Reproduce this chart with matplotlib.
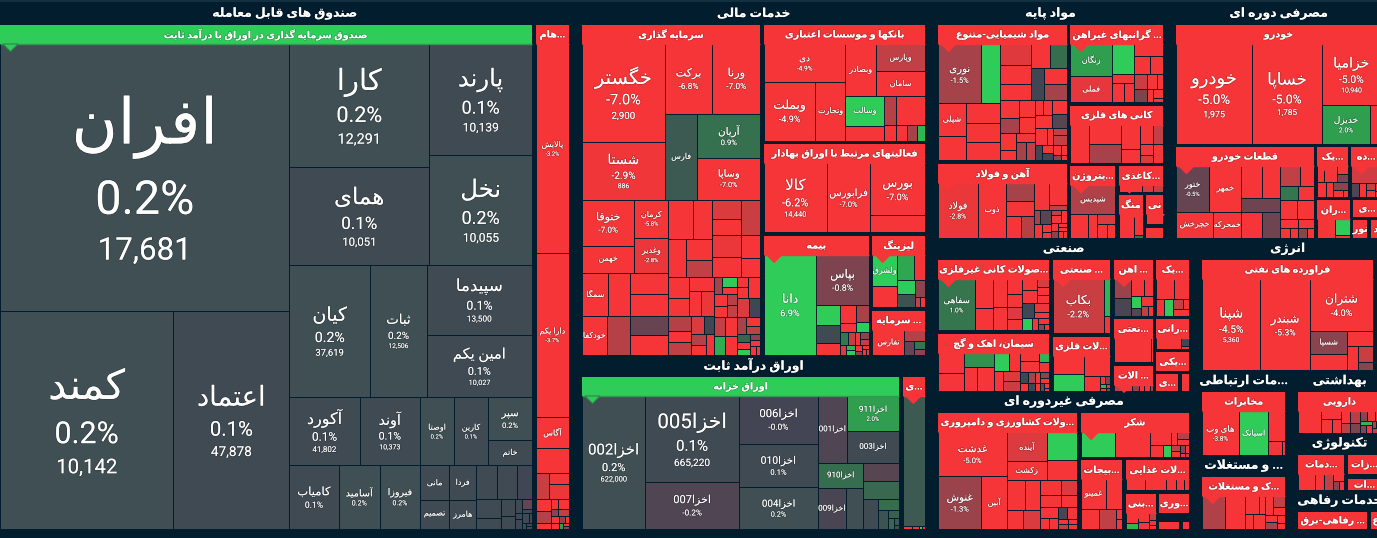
import re
import matplotlib
matplotlib.use("Agg")
import matplotlib.pyplot as plt
import matplotlib.patheffects as pe
from matplotlib.colors import LinearSegmentedColormap, Normalize
from matplotlib.patches import Polygon, Rectangle

# ---- data: names, sizes, % change, last price ----
R = -7.0  # limit-down stocks, most of the market

funds_names = ['افران', 'کمند', 'اعتماد', 'کارا', 'همای', 'پارند', 'نخل', 'کیان', 'ثبات', 'سپیدما', 'امین یکم', 'آکورد',
               'آوند', 'کامیاب', 'آسامید', 'فیروزا', 'اوصتا', 'کارین', 'سپر', 'خاتم', 'مانی', 'فردا', 'تصمیم', 'هامرز']
funds_prices = [17681, 10142, 47878, 12291, 10051, 10139, 10055, 37619, 12506, 13500, 10027, 41802, 10373]
funds_values = [77163, 37714, 25288, 17220, 13580, 11424, 11216, 10707, 7514, 7455, 6510, 4760, 4080, 3136, 2624, 2560,
                2312, 2312, 1892, 1100, 1015, 945, 841, 783, 693, 665, 490, 480, 264, 246, 182, 110, 100, 45, 40, 77, 60, 30, 25, 20, 15]
funds_changes = [.2, .2, .1, .2, .1, .1, .2, .2, .2, .1, .1, .1, .1, .1, .2, .2, .2, .1, .2, .1, .1, .1, .1, .1, .1, .1, 0, .1, .1, .1, .1, .1, -.5, .1, .1, 0, .1, .1, .1, .1, .1]

stockfunds_names = ['پالایش', 'دارا یکم', 'آگاس']
stockfunds_values = [7038, 5508, 1054, 816, 366, 235, 290, 186, 199, 90, 60, 45, 117, 78, 60, 45, 35, 30, 25, 20, 15]
stockfunds_changes = [-3.2, -3.7, R, R, -2.2, R, -2.8, R, -1.8, R, R, -1, R, -2, R, R, -1, R, 2, R, -1]

invest_names = ['خگستر', 'شستا', 'برکت', 'ورنا', 'فارس', 'آریان', 'وساپا', 'ختوقا', 'خهمن', 'کرمان', 'وغدیر', 'سمگا', '', 'خودکفا']
invest_prices = [2900, 886]
invest_values = [8094, 4745, 3313, 3337, 2780, 2743, 2618, 2424, 1378, 1280, 1180, 1152, 945, 954, 903, 829, 817, 742, 742,
                 975, 728, 682, 547, 443, 559, 453, 689, 641, 580, 452, 367, 443, 366, 351, 289, 325, 346, 260, 294, 221,
                 174, 166, 148, 169, 132, 143, 111, 151, 146, 118, 116, 106, 113, 252, 225, 214, 198, 236, 221, 229, 154, 128, 115, 102, 90, 77, 64, 58, 51, 38]
invest_changes = [R, -2.9, -6.8, R, .4, .9, R, R, R, -5.8, -2.8, R, R, R, -1.8, R, R, -.5, R,
                  R, R, R, R, -2, -2.5, R, -2.2, -2.8, -3, R, R, R, R, R, -3, -2.8, -1.8, R, -2, -2.5,
                  0, -1.8, R, R, -1.5, 3, R, R, R, -1.8, -2, R, R, R, -2.5, 0, -2, R, 2.3, R, -1.5, R, -2, .6, R, 3, -1, R, R, R]

banks_names = ['دی', 'وبملت', 'وتجارت', 'وبصادر', 'وپارس', 'سامان', 'وسالت']
banks_values = [2987, 2974, 1720, 1530, 1316, 1168, 1137, 557, 326, 828, 187, 168, 150, 120]
banks_changes = [-4.9, -4.9, -4, R, -2, R, 3, R, -1.8, R, R, R, -1.5, 2.5]

exchange_names = ['کالا', 'فرابورس', 'بورس']
exchange_prices = [14440]
exchange_values = [4282, 2916, 2788, 935]
exchange_changes = [-6.2, R, R, R]

insurance_names = ['دانا', 'بپاس']
insurance_values = [5100, 2530, 473, 403, 287, 265, 141, 212, 137, 93, 80, 60, 41, 40, 68, 60, 50, 40, 30, 25, 20, 15]
insurance_changes = [6.9, -.8, 3, .1, R, R, R, -1.5, 3, 1, -2, -2.5, 2.5, 3, R, -1, -2, R, -1, R, R, R]

leasing_names = ['ولشرق']
leasing_values = [744, 497, 400, 264, 242, 220, 168, 55, 45]
leasing_changes = [3, R, 2.2, R, 3, .3, -1, -2, R]

brokers_names = ['تفارس']
brokers_values = [744, 210, 127, 80, 60]
brokers_changes = [R, -1.8, -.5, 1, -1]

treasury_names = ['اخزا002', 'اخزا005', 'اخزا007', 'اخزا006', 'اخزا010', 'اخزا004', 'اخزا001', 'اخزا911', 'اخزا003', 'اخزا910', 'اخزا009']
treasury_prices = [622000, 665220]
treasury_values = [8286, 7910, 4274, 3713, 3421, 3239, 1866, 1818, 1627, 1139, 1107, 709, 648, 648, 425, 237, 182, 90, 60, 40, 20]
treasury_changes = [.2, .1, -.2, -.04, .1, .2, -.2, 2, .1, .8, -.1, .2, -.3, .7, .1, .8, .3, .5, .7, .4, .2]

bonds_values = [2870, 30, 20, 10, 10]
bonds_changes = [.4, R, R, 3, R]

chem_names = ['نوری', '', 'شپلی']
chem_values = [2430, 1080, 843, 645, 635, 635, 605, 614, 566, 470, 421, 403, 398, 330, 353, 298, 270,
               249, 251, 251, 155, 155, 155, 154, 122, 116, 205, 195, 200, 200, 100, 95, 120, 110, 90, 80, 70, 60, 40, 30]
chem_changes = [-1.5, 3, R, R, R, R, -3, -2.6, R, R, R, .8, 0, -3, -1.5, R, -1.5,
                R, R, R, R, R, -1.5, -2, R, R, -3, R, -.3, R, -3, -2, -2, 0, R, 0, R, R, -1, R]

steel_names = ['فولاد', 'ذوب']
steel_values = [2024, 1460, 457, 373, 317, 253, 388, 362, 92, 92, 136, 110, 56, 50, 45, 74, 70, 60, 50, 40, 30, 30, 25]
steel_changes = [-2.8, R, -1.5, R, R, -1.8, R, R, -2, -1.5, -.3, R, R, R, -2, R, R, R, -1, R, R, R, R]

gold_names = ['زنگان', 'فملی']
gold_values = [1240, 1024, 621, 332, 262, 217, 201, 223, 164, 197, 164, 138, 94, 68, 83, 40]
gold_changes = [2, -2.7, 3, R, -3, R, R, R, R, -2.2, -.8, R, R, R, R, R]

metals_values = [645, 585, 563, 443, 243, 229, 184, 127, 102, 168]
metals_changes = [R, R, -1.5, R, -3, R, -2, R, -2.5, R]

petro_names = ['شپدیس']
petro_values = [1238, 389, 210, 171, 120, 116]
petro_changes = [-1.7, R, -3, -2.5, R, R]

paper_values = [110, 55, 50]
paper_changes = [R, -2.5, -2]
mining_values = [345, 165, 29]
mining_changes = [R, R, 1]

auto_names = ['خودرو', 'خساپا', 'خزامیا', 'خدیزل']
auto_prices = [1975, 1785, 10940]
auto_values = [7524, 6900, 3599, 1824, 418]
auto_changes = [-5, -5, -5, 2, R]

parts_names = ['ختور', 'خمهر', 'خچرخش', 'خمحرکه']
parts_values = [1498, 1440, 962, 728, 662, 576, 538, 528, 455, 374, 270, 257, 220, 323, 306, 150, 100, 80, 135, 90, 70]
parts_changes = [-.5, R, R, R, R, R, -.6, R, -.6, -2, R, 1, R, R, R, R, R, R, R, -1, R]

textile_values = [100, 195, 77, 77, 115, 105, 100, 65, 30]
textile_changes = [R, R, R, -.8, R, R, -1, R, R]
cyc2_values = [420, 96, 90, 60, 50, 40, 30]
cyc2_changes = [-2.3, -.2, R, -2, R, R, R]
cyc3_values = [323, 215, 43]
cyc3_changes = [R, 3, R]

mineral_names = ['سفاهی']
mineral_values = [1700, 473, 351, 340, 200, 190, 288, 160, 148, 150, 160, 84, 88, 85, 160, 130, 85, 102, 66, 60, 32, 30]
mineral_changes = [1, R, R, R, R, R, R, -2.5, R, R, R, -2.5, R, R, 0, -2.8, R, 3, R, R, -1, R]

cement_values = [433, 374, 347, 271, 334, 219, 167, 144, 133, 140, 130, 181, 78, 82, 70, 65, 51, 50, 45, 40, 35, 30, 25, 20, 15]
cement_changes = [R, R, 1.7, R, R, 3, R, R, -2.5, -2.2, R, R, 2.5, R, 0, -1.5, R, 0, R, -1, R, R, -.5, R, R]

machinery_names = ['بکاب']
machinery_values = [2700, 214, 102]
machinery_changes = [-2.2, 2.5, R]

metalprod_values = [525, 475, 478, 229, 40, 36, 24, 20, 15, 12]
metalprod_changes = [R, 3, R, R, R, -.8, 2.5, R, R, -1]

rail_values = [283, 267, 200, 125, 116, 78, 104, 52, 42]
rail_changes = [-1.3, -.1, R, R, 3, -.3, R, -2, R]
ind_f_values = [864, 56]
ind_f_changes = [R, R]
ind_g_values = [60, 50, 40, 30, 30, 20]
ind_g_changes = [-2, R, -1, R, R, -1.5]
ind_h_values = [313, 265, 122, 133, 87, 54, 96]
ind_h_changes = [R, R, R, 3, -2, R, R]
ind_i_values = [237, 56, 20]
ind_i_changes = [R, 0, R]

agri_names = ['غدشت', 'غنوش', 'آبین', 'آینده', 'زکشت']
agri_values = [2831, 2176, 1280, 1100, 708, 816, 560, 510, 440, 280, 312, 290, 243, 217, 182, 192, 96, 90, 104, 112, 50, 45, 45, 40]
agri_changes = [-5, -1.3, R, -2.5, R, 3, R, R, R, R, -2.5, R, R, -2.5, R, R, R, R, -.1, R, R, -2, R, R]

sugar_values = [750, 750, 237, 128, 87, 64, 72, 60, 50, 40, 35, 30, 20, 15]
sugar_changes = [3, R, R, R, 3, R, -1.8, R, -2, R, -1, R, R, -2]

canned_names = ['غمینو']
canned_values = [700, 434, 339, 325, 62, 56]
canned_changes = [R, R, R, -2, R, R]

food_values = [183, 203, 93, 77, 50]
food_changes = [R, R, R, R, R]
dairy_values = [100, 60, 80, 60, 40, 30, 20]
dairy_changes = [R, 2.5, R, R, -2, R, R]

oil_names = ['شپنا', 'شبندر', 'شتران', 'شسپا']
oil_prices = [5360]
oil_values = [5179, 4425, 3183, 863, 580, 390, 240, 235, 123]
oil_changes = [-4.5, -5.3, -4, -1, -4, R, R, -2.2, -1]

telecom_names = ['های وب', 'اسیاتک']
telecom_values = [1494, 1214, 462, 178, 47]
telecom_changes = [-3.8, 3, R, R, R]

estate_values = [664, 578, 213, 96, 96, 150, 130, 120, 90, 80, 70, 60, 40]
estate_changes = [-1.7, R, R, R, R, R, R, -2, R, R, -1.5, R, R]

pharma_values = [372, 117, 117, 87, 87, 86, 65, 73, 50, 60, 45, 40, 35, 30, 25, 25, 20, 15]
pharma_changes = [R, R, R, R, R, -1.8, -2, -.8, -1, R, R, 2.5, -1, R, -1.5, R, -2, R]

tech_values = [190, 100, 90, 60, 40, 30]
tech_changes = [R, R, -2, R, -1, R]

# title, size, header change, names, prices, values, changes
funds_industries = [('صندوق سرمایه گذاری در اوراق با درآمد ثابت', 269136, 3, funds_names, funds_prices, funds_values, funds_changes),
                    ('...هام', 18600, R, stockfunds_names, [], stockfunds_values, stockfunds_changes)]
finance_industries = [('سرمایه گذاری', 60530, R, invest_names, invest_prices, invest_values, invest_changes),
                      ('بانکها و موسسات اعتباری', 19612, R, banks_names, [], banks_values, banks_changes),
                      ('فعالیتهای مرتبط با اوراق بهادار', 15143, R, exchange_names, exchange_prices, exchange_values, exchange_changes),
                      ('بیمه', 13291, R, insurance_names, [], insurance_values, insurance_changes),
                      ('لیزینگ', 4209, R, leasing_names, [], leasing_values, leasing_changes),
                      ('... سرمایه', 2684, R, brokers_names, [], brokers_values, brokers_changes)]
fixed_industries = [('اوراق خزانه', 49838, 3, treasury_names, treasury_prices, treasury_values, treasury_changes),
                    ('...ی', 3995, R, [], [], bonds_values, bonds_changes)]
materials_industries = [('مواد شیمیایی-متنوع', 18213, R, chem_names, [], chem_values, chem_changes),
                        ('آهن و فولاد', 10191, R, steel_names, [], steel_values, steel_changes),
                        ('... گرانبهای غیراهن', 7688, R, gold_names, [], gold_values, gold_changes),
                        ('کانی های فلزی', 5778, R, [], [], metals_values, metals_changes),
                        ('...یتروژن', 3613, R, petro_names, [], petro_values, petro_changes),
                        ('...کاغذی', 1368, R, [], [], paper_values, paper_changes),
                        ('منگ', 1251, R, [], [], mining_values, mining_changes),
                        ('نی', 646, R, [], [], [1], [R]),
                        ('', 277, R, [], [], [], [])]
cyclical_industries = [('خودرو', 25333, R, auto_names, auto_prices, auto_values, auto_changes),
                       ('قطعات خودرو', 13277, R, parts_names, [], parts_values, parts_changes),
                       ('...یک', 1811, R, [], [], textile_values, textile_changes),
                       ('...ده', 1759, R, [], [], cyc2_values, cyc2_changes),
                       ('...ران', 1473, R, [], [], cyc3_values, cyc3_changes),
                       ('...ی', 614, R, [], [], [], []),
                       ('نور', 376, R, [], [], [], []),
                       ('د', 290, R, [], [], [], [])]
industrial_industries = [('...صولات کانی غیرفلزی', 8342, R, mineral_names, [], mineral_values, mineral_changes),
                         ('سیمان، اهک و گچ', 6867, R, [], [], cement_values, cement_changes),
                         ('... صنعتی', 4628, R, machinery_names, [], machinery_values, machinery_changes),
                         ('...لات فلزی', 3479, R, [], [], metalprod_values, metalprod_changes),
                         ('... اهن', 2486, R, [], [], rail_values, rail_changes),
                         ('...یک', 2135, R, [], [], ind_h_values, ind_h_changes),
                         ('...نعتی', 1976, R, [], [], ind_f_values, ind_f_changes),
                         ('... الات', 1211, R, [], [], ind_g_values, ind_g_changes),
                         ('...رانی', 1186, R, [], [], ind_i_values, ind_i_changes),
                         ('...یکی', 785, R, [], [], [], []),
                         ('...ی', 502, R, [], [], [], []),
                         ('', 215, R, [], [], [], [])]
staples_industries = [('...ولات کشاورزی و دامپروری', 16909, R, agri_names, [], agri_values, agri_changes),
                      ('شکر', 5278, R, [], [], sugar_values, sugar_changes),
                      ('...بیجات', 3226, R, canned_names, [], canned_values, canned_changes),
                      ('...لات غذایی', 2226, R, [], [], food_values, food_changes),
                      ('...بنی', 1284, R, [], [], dairy_values, dairy_changes),
                      ('...وری', 941, R, [], [], [], []),
                      ('', 242, R, [], [], [], []),
                      ('', 100, R, [], [], [], [])]
energy_industries = [('فراورده های نفتی', 1, R, oil_names, oil_prices, oil_values, oil_changes)]
telecom_industries = [('مخابرات', 1, R, telecom_names, [], telecom_values, telecom_changes)]
estate_industries = [('...ک و مستغلات', 1, R, [], [], estate_values, estate_changes)]
health_industries = [('دارویی', 1, R, [], [], pharma_values, pharma_changes)]
tech_industries = [('...دمات', 50, R, [], [], tech_values, tech_changes),
                   ('...زات', 23.5, R, [], [], [], []),
                   ('...ات', 13.5, R, [], [], [], [])]
welfare_industries = [('... رفاهی-برق', 73, R, [], [], [], []), ('ع', 14, R, [], [], [], [])]

sector_names = ['صندوق های قابل معامله', 'خدمات مالی', 'اوراق درآمد ثابت', 'مواد پایه', 'مصرفی دوره ای', 'صنعتی', 'مصرفی غیردوره ای',
                'انرژی', '', '...مات ارتباطی', '... و مستغلات', 'بهداشتی', 'تکنولوژی', 'خدمات رفاهی']
sector_values = [306132, 125312, 61944, 55930, 51230, 40392, 36432, 24288, 1056, 8160, 7104, 6000, 5472, 3744]
sector_industries = [funds_industries, finance_industries, fixed_industries, materials_industries, cyclical_industries,
                     industrial_industries, staples_industries, energy_industries, [], telecom_industries, estate_industries,
                     health_industries, tech_industries, welfare_industries]

# ---- Persian shaping, matplotlib draws neither joined letters nor rtl ----
FORMS = {'ء': (0xFE80,), 'آ': (0xFE81, 0xFE82), 'أ': (0xFE83, 0xFE84), 'ؤ': (0xFE85, 0xFE86), 'إ': (0xFE87, 0xFE88),
         'ا': (0xFE8D, 0xFE8E), 'ب': (0xFE8F, 0xFE90, 0xFE91, 0xFE92), 'پ': (0xFB56, 0xFB57, 0xFB58, 0xFB59),
         'ت': (0xFE95, 0xFE96, 0xFE97, 0xFE98), 'ث': (0xFE99, 0xFE9A, 0xFE9B, 0xFE9C), 'ج': (0xFE9D, 0xFE9E, 0xFE9F, 0xFEA0),
         'چ': (0xFB7A, 0xFB7B, 0xFB7C, 0xFB7D), 'ح': (0xFEA1, 0xFEA2, 0xFEA3, 0xFEA4), 'خ': (0xFEA5, 0xFEA6, 0xFEA7, 0xFEA8),
         'د': (0xFEA9, 0xFEAA), 'ذ': (0xFEAB, 0xFEAC), 'ر': (0xFEAD, 0xFEAE), 'ز': (0xFEAF, 0xFEB0), 'ژ': (0xFB8A, 0xFB8B),
         'س': (0xFEB1, 0xFEB2, 0xFEB3, 0xFEB4), 'ش': (0xFEB5, 0xFEB6, 0xFEB7, 0xFEB8), 'ص': (0xFEB9, 0xFEBA, 0xFEBB, 0xFEBC),
         'ض': (0xFEBD, 0xFEBE, 0xFEBF, 0xFEC0), 'ط': (0xFEC1, 0xFEC2, 0xFEC3, 0xFEC4), 'ظ': (0xFEC5, 0xFEC6, 0xFEC7, 0xFEC8),
         'ع': (0xFEC9, 0xFECA, 0xFECB, 0xFECC), 'غ': (0xFECD, 0xFECE, 0xFECF, 0xFED0), 'ف': (0xFED1, 0xFED2, 0xFED3, 0xFED4),
         'ق': (0xFED5, 0xFED6, 0xFED7, 0xFED8), 'ک': (0xFB8E, 0xFB8F, 0xFB90, 0xFB91), 'گ': (0xFB92, 0xFB93, 0xFB94, 0xFB95),
         'ل': (0xFEDD, 0xFEDE, 0xFEDF, 0xFEE0), 'م': (0xFEE1, 0xFEE2, 0xFEE3, 0xFEE4), 'ن': (0xFEE5, 0xFEE6, 0xFEE7, 0xFEE8),
         'ه': (0xFEE9, 0xFEEA, 0xFEEB, 0xFEEC), 'و': (0xFEED, 0xFEEE), 'ی': (0xFBFC, 0xFBFD, 0xFBFE, 0xFBFF)}


def shape(text):
    out = []
    i = 0
    while i < len(text):
        c = text[i]
        if c not in FORMS:
            out.append(c)
            i += 1
            continue
        prev = text[i - 1] if i else ''
        joined = prev in FORMS and len(FORMS[prev]) == 4
        next_c = text[i + 1] if i + 1 < len(text) else ''
        if c == 'ل' and next_c in ('ا', 'آ'):
            base = 0xFEFB if next_c == 'ا' else 0xFEF5
            out.append(chr(base + (1 if joined else 0)))
            i += 2
            continue
        forms = FORMS[c]
        if len(forms) == 4 and next_c in FORMS:
            out.append(chr(forms[3] if joined else forms[2]))
        elif joined and len(forms) > 1:
            out.append(chr(forms[1]))
        else:
            out.append(chr(forms[0]))
        i += 1
    # right to left, digit runs keep their order
    parts = re.findall(r'[0-9]+|[^0-9]', ''.join(out))
    return ''.join(reversed(parts))


# ---- binary treemap: split at the half of the sum, along the long side ----
def tile(values, x0, y0, x1, y1):
    sums = [0]
    for v in values:
        sums.append(sums[-1] + v)
    rects = [None] * len(values)

    def part(i, j, value, x0, y0, x1, y1):
        if i >= j - 1:
            rects[i] = (x0, y0, x1, y1)
            return
        target = value / 2 + sums[i]
        k, hi = i + 1, j
        while k < hi:
            mid = (k + hi) // 2
            if sums[mid] < target:
                k = mid + 1
            else:
                hi = mid
        if target - sums[k - 1] < sums[k] - target and i + 1 < k:
            k -= 1
        left = sums[k] - sums[i]
        right = value - left
        if x1 - x0 > y1 - y0:
            xk = (x0 * right + x1 * left) / value
            part(i, k, left, x0, y0, xk, y1)
            part(k, j, right, xk, y0, x1, y1)
        else:
            yk = (y0 * right + y1 * left) / value
            part(i, k, left, x0, y0, x1, yk)
            part(k, j, right, x0, yk, x1, y1)

    part(0, len(values), sum(values), x0, y0, x1, y1)
    return rects


BG = '#011d2e'
cmap = LinearSegmentedColormap.from_list('finviz', ['#f63538', '#bf4045', '#8b444e', '#414554', '#35764e', '#2f9e4f', '#30cc5a'])
norm = Normalize(-3, 3)
SHADOW = [pe.withStroke(linewidth=1.0, foreground=(0, 0, 0, 0.22))]

fig = plt.figure(figsize=(13.77, 5.38), dpi=100, facecolor=BG)
ax = fig.add_axes([0, 0, 1, 1])
ax.set_xlim(0, 1377)
ax.set_ylim(538, 0)
ax.axis('off')
ax.axhspan(0, 2, color='#12303f', lw=0)


def label(x, y, text, px, bold=False):
    ax.text(x, y, text, color='white', fontsize=px * 0.72, ha='center', va='center', family=['Roboto', 'DejaVu Sans'],
            weight='bold' if bold else 'normal', path_effects=SHADOW, zorder=6)


def draw_industry(title, header_change, names, prices, values, changes, x0, y0, x1, y1):
    color = cmap(norm(header_change))
    bottom = min(y0 + 19, y1)
    ax.add_patch(Rectangle((x0, y0), x1 - x0, bottom - y0, fc=color, ec='none', zorder=3))
    if values and y1 > bottom:
        for i, (v, c, r) in enumerate(zip(values, changes, tile(values, x0, bottom, x1, y1))):
            w, h = r[2] - r[0], r[3] - r[1]
            ax.add_patch(Rectangle((r[0], r[1]), w, h, fc=cmap(norm(c)), ec=BG, lw=0.7, zorder=2))
            name = names[i] if i < len(names) else ''
            if not name:
                continue
            side = min(w, h)
            f = 0.175 * side
            price = prices[i] if i < len(prices) and side >= 52 else None
            has_pct = side >= 33
            lines = [(shape(name), 1.9 * f, max(1.35 * f, 8))]
            if has_pct:
                lines.append((f'{c:.1f}%', 1.25 * f, f))
            if price:
                lines.append((f'{price:,}', 0.9 * f, 0.67 * f))
            y = (r[1] + r[3]) / 2 - sum(l[1] for l in lines) / 2
            for text, height, px in lines:
                label((r[0] + r[2]) / 2, y + height / 2, text, px)
                y += height
        ax.plot([x0, x1], [bottom, bottom], color=cmap(norm(header_change - 1.1)), lw=1, zorder=3, solid_capstyle='butt')
        ax.add_patch(Polygon([(x0 + 3, bottom), (x0 + 18, bottom), (x0 + 10.5, bottom + 7.5)], closed=True, fc=color,
                             ec=cmap(norm(header_change - 1.6)), lw=0.8, zorder=4))
    if title:
        label((x0 + x1) / 2, (y0 + bottom) / 2, shape(title), 9.6, bold=True)


# sectors fill the canvas and run a little past its right edge
for name, cell, industries in zip(sector_names, tile(sector_values, -6.5, 3, 1387.5, 529), sector_industries):
    if not industries:
        continue
    x0, y0, x1, y1 = cell[0] + 6.5, cell[1] + 22, cell[2] - 6.5, cell[3]
    label((x0 + x1) / 2, y0 - 11.5, shape(name), 12.4, bold=True)
    sizes = [ind[1] for ind in industries]
    for ind, r in zip(industries, tile(sizes, x0 - 1.75, y0 - 1.75, x1 + 1.75, y1 + 1.75)):
        draw_industry(ind[0], ind[2], ind[3], ind[4], ind[5], ind[6], r[0] + 1.75, r[1] + 1.75, r[2] - 1.75, r[3] - 1.75)

fig.savefig('out.png', dpi=100, facecolor=BG)
